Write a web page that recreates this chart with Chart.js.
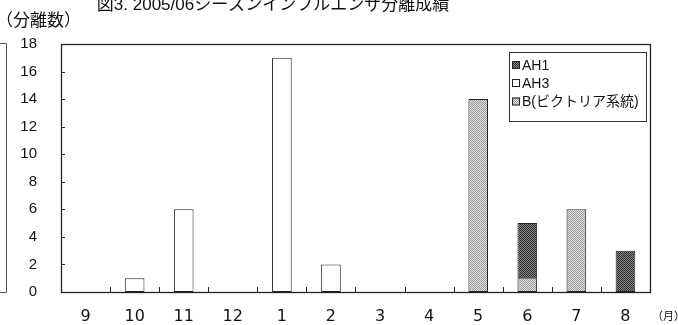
<!DOCTYPE html>
<html>
<head>
<meta charset="utf-8">
<script src="https://cdn.jsdelivr.net/npm/chart.js@4/dist/chart.umd.min.js"></script>
<style>
html,body{margin:0;padding:0;background:#fff;}
#wrap{width:678px;height:325px;position:relative;}
</style>
</head>
<body>
<div id="wrap"><canvas id="c" width="678" height="325"></canvas></div>
<script>
const months = ['9','10','11','12','1','2','3','4','5','6','7','8'];
const ah1 = [0,0,0,0,0,0,0,0,0,4,0,3];
const ah3 = [0,1,6,0,17,2,0,0,0,0,0,0];
const bVic = [0,0,0,0,0,0,0,0,14,1,6,0];
const yTicks = [0,2,4,6,8,10,12,14,16,18];
const chartTitle = '図3. 2005/06シーズンインフルエンザ分離成績';
const yTitle = '（分離数）';
const xUnit = '（月）';
const seriesNames = ['AH1','AH3','B(ビクトリア系統)'];

function makePattern(c1, c2){
  const p = document.createElement('canvas');
  p.width = 4; p.height = 4;
  const g = p.getContext('2d');
  g.fillStyle = c2; g.fillRect(0,0,4,4);
  g.fillStyle = c1;
  for (let y=0;y<4;y++) for (let x=0;x<4;x++) if ((x+y)%2===0) g.fillRect(x,y,1,1);
  return g.createPattern(p,'repeat');
}
const ctx0 = document.getElementById('c').getContext('2d');
const patAH1 = makePattern('#2a2a2a','#8a8a8a');
const patB = makePattern('#9a9a9a','#e2e2e2');

const MIX = '"Liberation Sans", "Noto Sans CJK JP", sans-serif';
const CJK = '"Noto Sans CJK JP", "Liberation Sans", sans-serif';
const nz = arr => arr.map(v => (v === 0 ? null : v));

const decor = {
  id:'decor',
  afterDraw(chart){
    const c = chart.ctx, a = chart.chartArea;
    const xs = chart.scales.x, ys = chart.scales.y;
    c.save();
    c.strokeStyle = '#222'; c.lineWidth = 1.3;
    c.strokeRect(a.left+0.5, a.top+0.5, a.right-a.left, a.bottom-a.top);
    c.lineWidth = 1;
    yTicks.forEach(v=>{
      const y = Math.round(ys.getPixelForValue(v))+0.5;
      c.beginPath(); c.moveTo(a.left, y); c.lineTo(a.left+4, y); c.stroke();
    });
    const w = xs.getPixelForValue(1) - xs.getPixelForValue(0);
    for (let i=1;i<months.length;i++){
      const x = Math.round(xs.getPixelForValue(i) - w/2)+0.5;
      c.beginPath(); c.moveTo(x, a.bottom); c.lineTo(x, a.bottom-5); c.stroke();
    }
    c.strokeStyle = '#555'; c.lineWidth = 1;
    c.beginPath(); c.moveTo(0, 43.5); c.lineTo(6.5, 43.5); c.lineTo(6.5, 292.5); c.lineTo(0, 292.5); c.stroke();
    c.fillStyle = '#111';
    c.font = '17px ' + MIX;
    c.textAlign = 'center'; c.textBaseline = 'alphabetic';
    c.fillText(chartTitle, 273, 10);
    c.font = '17px ' + CJK;
    c.textAlign = 'left'; c.textBaseline = 'middle';
    c.fillText(yTitle, -4, 20);
    c.font = '11px ' + CJK;
    c.fillText(xUnit, 652, 316);
    const lx = 509.5, ly = 52.5, lw = 137, lh = 69;
    c.fillStyle = '#fff'; c.fillRect(lx, ly, lw, lh);
    c.strokeStyle = '#333'; c.lineWidth = 1;
    c.strokeRect(lx, ly, lw, lh);
    const fills = [patAH1, '#ffffff', patB];
    const rowsY = [65, 83, 101.5];
    c.font = '14px ' + MIX;
    c.textBaseline = 'middle';
    for (let i=0;i<3;i++){
      c.fillStyle = fills[i];
      c.fillRect(512, rowsY[i]-4, 8, 8);
      c.strokeStyle = '#222';
      c.strokeRect(512.5, rowsY[i]-3.5, 7, 7);
      c.fillStyle = '#111';
      c.fillText(seriesNames[i], 522, rowsY[i]+1);
    }
    c.restore();
  }
};

new Chart(ctx0, {
  type:'bar',
  data:{
    labels: months,
    datasets:[
      {label: seriesNames[2], data: nz(bVic), backgroundColor: patB, borderColor:'#222', borderWidth:1, borderSkipped:false},
      {label: seriesNames[1], data: nz(ah3), backgroundColor: '#ffffff', borderColor:'#222', borderWidth:1, borderSkipped:false},
      {label: seriesNames[0], data: nz(ah1), backgroundColor: patAH1, borderColor:'#222', borderWidth:1, borderSkipped:false}
    ]
  },
  options:{
    responsive:false,
    animation:false,
    layout:{padding:{left:0,right:28,top:44,bottom:0}},
    plugins:{legend:{display:false}, title:{display:false}, tooltip:{enabled:false}},
    datasets:{bar:{barPercentage:0.4, categoryPercentage:1}},
    scales:{
      x:{
        stacked:true,
        grid:{display:false, drawTicks:false},
        border:{display:false},
        ticks:{color:'#111', padding:15, font:{family:'"DejaVu Sans", sans-serif', size:16}, maxRotation:0, autoSkip:false},
        afterFit(s){ s.height = 33; }
      },
      y:{
        stacked:true,
        min:0, max:18,
        grid:{display:false, drawTicks:false},
        border:{display:false},
        ticks:{stepSize:2, color:'#111', padding:24, font:{family:'"Liberation Sans", sans-serif', size:15}},
        afterFit(s){ s.width = 61; }
      }
    }
  },
  plugins:[decor]
});
</script>
</body>
</html>
